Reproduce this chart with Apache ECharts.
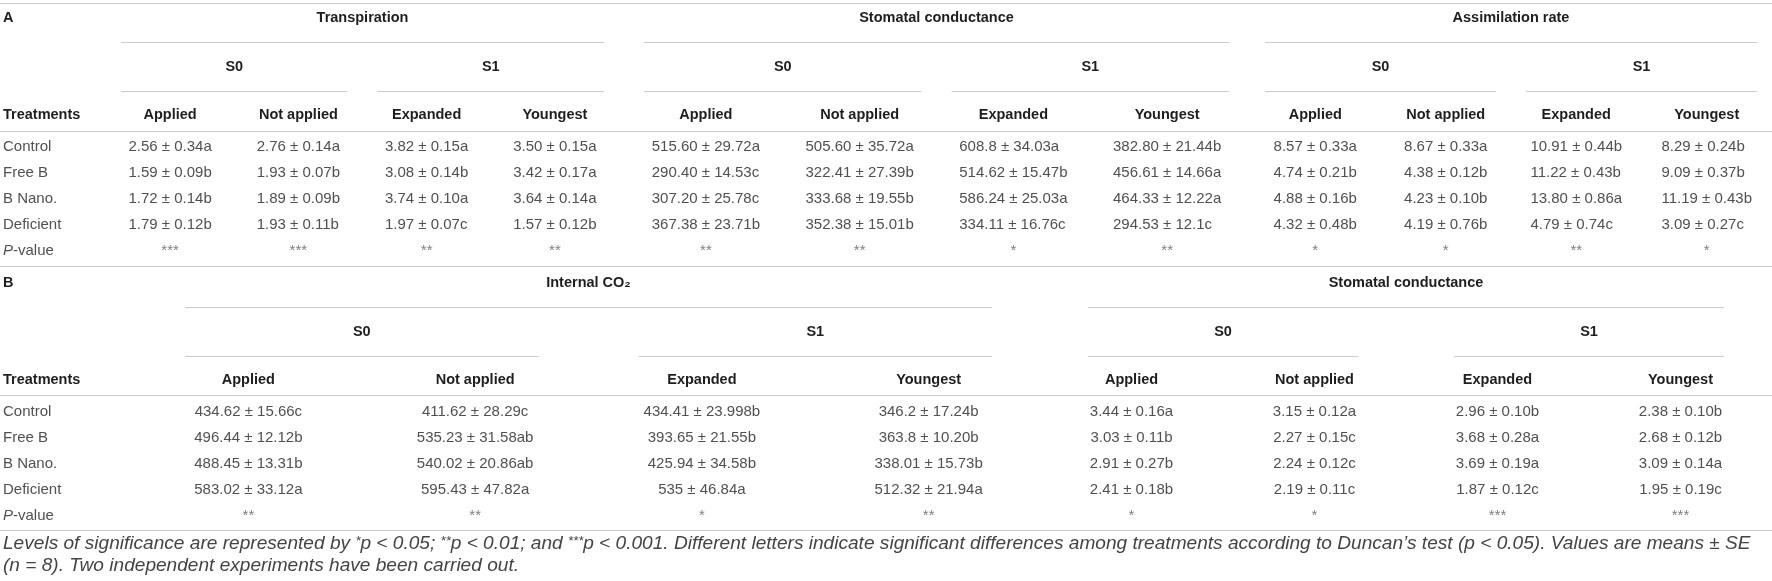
<!DOCTYPE html>
<html>
<head>
<meta charset="utf-8">
<script src="https://cdn.jsdelivr.net/npm/echarts@6/dist/echarts.min.js"></script>
<style>
  html, body { margin: 0; padding: 0; background: #fff; }
  #main { width: 1772px; height: 581px; }
</style>
</head>
<body>
<div id="main"></div>
<script>
// 表格数据
var treatments = ['Control', 'Free B', 'B Nano.', 'Deficient'];
var stressCols = ['S0', 'S1'];
var leafCols = ['Applied', 'Not applied', 'Expanded', 'Youngest'];

// A
var transpiration = [
    ['2.56 ± 0.34a', '2.76 ± 0.14a', '3.82 ± 0.15a', '3.50 ± 0.15a'],
    ['1.59 ± 0.09b', '1.93 ± 0.07b', '3.08 ± 0.14b', '3.42 ± 0.17a'],
    ['1.72 ± 0.14b', '1.89 ± 0.09b', '3.74 ± 0.10a', '3.64 ± 0.14a'],
    ['1.79 ± 0.12b', '1.93 ± 0.11b', '1.97 ± 0.07c', '1.57 ± 0.12b']
];
var transpirationP = ['***', '***', '**', '**'];

var stomatalA = [
    ['515.60 ± 29.72a', '505.60 ± 35.72a', '608.8 ± 34.03a', '382.80 ± 21.44b'],
    ['290.40 ± 14.53c', '322.41 ± 27.39b', '514.62 ± 15.47b', '456.61 ± 14.66a'],
    ['307.20 ± 25.78c', '333.68 ± 19.55b', '586.24 ± 25.03a', '464.33 ± 12.22a'],
    ['367.38 ± 23.71b', '352.38 ± 15.01b', '334.11 ± 16.76c', '294.53 ± 12.1c']
];
var stomatalAP = ['**', '**', '*', '**'];

var assimilation = [
    ['8.57 ± 0.33a', '8.67 ± 0.33a', '10.91 ± 0.44b', '8.29 ± 0.24b'],
    ['4.74 ± 0.21b', '4.38 ± 0.12b', '11.22 ± 0.43b', '9.09 ± 0.37b'],
    ['4.88 ± 0.16b', '4.23 ± 0.10b', '13.80 ± 0.86a', '11.19 ± 0.43b'],
    ['4.32 ± 0.48b', '4.19 ± 0.76b', '4.79 ± 0.74c', '3.09 ± 0.27c']
];
var assimilationP = ['*', '*', '**', '*'];

// B
var internalCO2 = [
    ['434.62 ± 15.66c', '411.62 ± 28.29c', '434.41 ± 23.998b', '346.2 ± 17.24b'],
    ['496.44 ± 12.12b', '535.23 ± 31.58ab', '393.65 ± 21.55b', '363.8 ± 10.20b'],
    ['488.45 ± 13.31b', '540.02 ± 20.86ab', '425.94 ± 34.58b', '338.01 ± 15.73b'],
    ['583.02 ± 33.12a', '595.43 ± 47.82a', '535 ± 46.84a', '512.32 ± 21.94a']
];
var internalCO2P = ['**', '**', '*', '**'];

var stomatalB = [
    ['3.44 ± 0.16a', '3.15 ± 0.12a', '2.96 ± 0.10b', '2.38 ± 0.10b'],
    ['3.03 ± 0.11b', '2.27 ± 0.15c', '3.68 ± 0.28a', '2.68 ± 0.12b'],
    ['2.91 ± 0.27b', '2.24 ± 0.12c', '3.69 ± 0.19a', '3.09 ± 0.14a'],
    ['2.41 ± 0.18b', '2.19 ± 0.11c', '1.87 ± 0.12c', '1.95 ± 0.19c']
];
var stomatalBP = ['*', '*', '***', '***'];

var note1 = 'Levels of significance are represented by *p < 0.05; **p < 0.01; and ***p < 0.001. Different letters indicate significant differences among treatments according to Duncan’s test (p < 0.05). Values are means ± SE';
var note2 = '(n = 8). Two independent experiments have been carried out.';

// 样式
var W = 1772;
var FAMILY = '"Liberation Sans", Arial, sans-serif';
var HEAD_FONT = 'bold 14.5px ' + FAMILY;
var CELL_FONT = '15px ' + FAMILY;
var HEAD_COLOR = '#1e1e1e';
var CELL_COLOR = '#505050';
var NOTE_COLOR = '#444444';
var RULE_COLOR = '#cccccc';

// 版面: 每块分表头和表体两个 grid
var sections = [
    {
        label: 'A', headTop: 18, bodyTop: 147, topRule: true, headDy: 16, bottomDy: 15, align: 'left',
        groups: [
            { title: 'Transpiration', rows: transpiration, p: transpirationP, left: 106, width: 513, inset: 15 },
            { title: 'Stomatal conductance', rows: stomatalA, p: stomatalAP, left: 629, width: 615, inset: 15 },
            { title: 'Assimilation rate', rows: assimilation, p: assimilationP, left: 1250, width: 528, inset: 15 }
        ]
    },
    {
        label: 'B', headTop: 283, bodyTop: 412, topRule: false, headDy: 15, bottomDy: 14, align: 'center',
        groups: [
            { title: 'Internal CO₂', rows: internalCO2, p: internalCO2P, left: 135, width: 907, inset: 50 },
            { title: 'Stomatal conductance', rows: stomatalB, p: stomatalBP, left: 1040, width: 780, inset: 48 }
        ]
    }
];
var HEAD_STEP = 48.5;
var ROW_STEP = 26;

var ctx = document.createElement('canvas').getContext('2d');
function textWidth(t, font) {
    ctx.font = font;
    return ctx.measureText(t).width;
}

var grids = [], xAxes = [], yAxes = [], series = [];

function draw(it, api) {
    var band = api.size([1, 0])[0];
    var xOf = function (c) { return api.coord([c, 0])[0]; };
    var yOf = function (r) { return api.coord([0, r])[1]; };
    if (it.kind === 'rule') {
        var ry = Math.round(yOf(it.row) + it.dy) + 0.5;
        return { type: 'line', shape: { x1: 0, y1: ry, x2: W, y2: ry }, style: { stroke: RULE_COLOR, lineWidth: 1.2 } };
    }
    if (it.kind === 'span') {
        var x1 = xOf(it.col) - band / 2 + it.inset;
        var x2 = Math.min(xOf(it.col2) + band / 2 - it.inset, W - 15);
        var ly = Math.round((yOf(it.row) + yOf(it.row + 1)) / 2) + 0.5;
        return {
            type: 'group',
            children: [
                { type: 'line', shape: { x1: x1, y1: ly, x2: x2, y2: ly }, style: { stroke: RULE_COLOR, lineWidth: 1.2 } },
                { type: 'text', style: { text: it.text, x: (x1 + x2) / 2, y: yOf(it.row), align: 'center', verticalAlign: 'middle', font: HEAD_FONT, fill: HEAD_COLOR } }
            ]
        };
    }
    var x;
    if (it.align === 'left') x = xOf(it.col) - (it.half || band / 2);
    else x = xOf(it.col);
    return {
        type: 'text',
        style: {
            text: it.text, x: x, y: yOf(it.row), align: it.align || 'center', verticalAlign: 'middle',
            font: it.font, fill: it.fill, rich: it.rich
        }
    };
}

function addGrid(left, top, width, height, cols, rows, items) {
    var i = grids.length;
    grids.push({ left: left, top: top, width: width, height: height });
    xAxes.push({ type: 'category', gridIndex: i, data: cols, show: false, boundaryGap: true });
    yAxes.push({ type: 'category', gridIndex: i, data: rows, show: false, inverse: true, boundaryGap: false });
    series.push({
        type: 'custom', xAxisIndex: i, yAxisIndex: i, silent: true, animation: false, clip: false,
        data: items.map(function (it) { return [it.col || 0, it.row]; }),
        renderItem: function (params, api) { return draw(items[params.dataIndex], api); }
    });
}

var headRows = ['title', 'sub', 'head'];
var bodyRows = treatments.concat(['P-value']);
var pRich = { i: { font: 'italic 15px ' + FAMILY, fill: CELL_COLOR }, n: { font: CELL_FONT, fill: CELL_COLOR } };

sections.forEach(function (sec) {
    // 左侧标签列
    var labHead = [
        { kind: 'text', col: 0, row: 0, text: sec.label, align: 'left', font: HEAD_FONT, fill: HEAD_COLOR },
        { kind: 'text', col: 0, row: 2, text: 'Treatments', align: 'left', font: HEAD_FONT, fill: HEAD_COLOR },
        { kind: 'rule', row: 2, dy: sec.headDy }
    ];
    if (sec.topRule) labHead.push({ kind: 'rule', row: 0, dy: -15 });
    addGrid(3, sec.headTop, 100, HEAD_STEP * 2, [''], headRows, labHead);

    var labBody = treatments.map(function (t, r) {
        return { kind: 'text', col: 0, row: r, text: t, align: 'left', font: CELL_FONT, fill: CELL_COLOR };
    });
    labBody.push({ kind: 'text', col: 0, row: 4, text: '{i|P}{n|-value}', align: 'left', rich: pRich, font: CELL_FONT, fill: CELL_COLOR });
    labBody.push({ kind: 'rule', row: 4, dy: sec.bottomDy });
    addGrid(3, sec.bodyTop, 100, ROW_STEP * 4, [''], bodyRows, labBody);

    sec.groups.forEach(function (g) {
        var head = [
            { kind: 'span', col: 0, col2: 3, row: 0, text: g.title, inset: g.inset },
            { kind: 'span', col: 0, col2: 1, row: 1, text: stressCols[0], inset: g.inset },
            { kind: 'span', col: 2, col2: 3, row: 1, text: stressCols[1], inset: g.inset }
        ];
        leafCols.forEach(function (c, ci) {
            head.push({ kind: 'text', col: ci, row: 2, text: c, font: HEAD_FONT, fill: HEAD_COLOR });
        });
        addGrid(g.left, sec.headTop, g.width, HEAD_STEP * 2, leafCols, headRows, head);

        var body = [];
        leafCols.forEach(function (c, ci) {
            var half = 0;
            g.rows.forEach(function (row) { half = Math.max(half, textWidth(row[ci], CELL_FONT) / 2); });
            g.rows.forEach(function (row, r) {
                body.push({ kind: 'text', col: ci, row: r, text: row[ci], align: sec.align, half: half, font: CELL_FONT, fill: CELL_COLOR });
            });
            body.push({ kind: 'text', col: ci, row: 4, text: g.p[ci], font: CELL_FONT, fill: '#808080' });
        });
        addGrid(g.left, sec.bodyTop, g.width, ROW_STEP * 4, leafCols, bodyRows, body);
    });
});

// 注释: 字号按第一行铺满宽度来定
var noteSize = Math.round(17 * 1762 / textWidth(note1, 'italic 17px ' + FAMILY) * 10) / 10;
var noteFont = 'italic ' + noteSize + 'px ' + FAMILY;
var noteRich = {
    t: { font: noteFont, fill: NOTE_COLOR },
    s: { font: 'italic ' + Math.round(noteSize * 0.7) + 'px ' + FAMILY, fill: NOTE_COLOR, verticalAlign: 'top', padding: [0, 0, 5, 0] }
};
var noteText = note1.replace(/(\*+)p/g, '}{s|$1}{t|p');

var chart = echarts.init(document.getElementById('main'));
chart.setOption({
    backgroundColor: '#fff',
    animation: false,
    grid: grids,
    xAxis: xAxes,
    yAxis: yAxes,
    series: series,
    graphic: [
        {
            type: 'text', x: 3, y: 544,
            style: { text: '{t|' + noteText + '}', rich: noteRich, verticalAlign: 'middle' }
        },
        {
            type: 'text', x: 3, y: 566,
            style: { text: note2, font: noteFont, fill: NOTE_COLOR, verticalAlign: 'middle' }
        }
    ]
});
</script>
</body>
</html>
